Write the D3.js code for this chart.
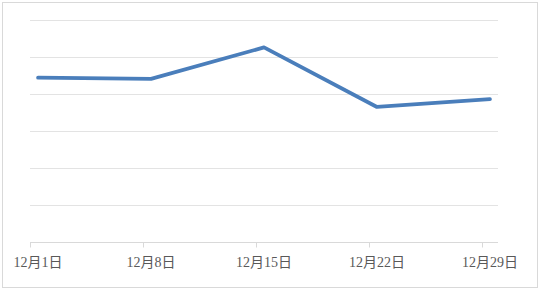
<!DOCTYPE html>
<html>
<head>
<meta charset="utf-8">
<script src="https://cdn.jsdelivr.net/npm/d3@7"></script>
<style>
  html, body { margin: 0; padding: 0; background: #fff; }
  .xaxis text { font-family: "Liberation Serif", "Noto Sans CJK SC", serif; font-size: 14px; fill: #595959; }
</style>
</head>
<body>
<div id="chart"></div>
<script>
var days = d3.range(1, 30);          // Dec 1 .. Dec 29, one band per day
var tickDays = [1, 8, 15, 22, 29];
var tickLabels = ["12月1日", "12月8日", "12月15日", "12月22日", "12月29日"];
var pointDays = [1, 8, 15, 22, 29];
var values = [4.44, 4.41, 5.26, 3.65, 3.86];
var gridValues = [0, 1, 2, 3, 4, 5, 6];

var width = 540, height = 290;
var margin = {top: 20, right: 42, bottom: 48, left: 30};
var plotW = width - margin.left - margin.right,
    plotH = height - margin.top - margin.bottom;

var svg = d3.select("#chart").append("svg")
    .attr("width", width)
    .attr("height", height);

svg.append("rect")
    .attr("x", 2.5).attr("y", 2.5)
    .attr("width", width - 5).attr("height", height - 5)
    .attr("fill", "#fff")
    .attr("stroke", "#d9d9d9");

var g = svg.append("g")
    .attr("transform", "translate(" + margin.left + "," + margin.top + ")");

var x = d3.scaleBand().domain(days).range([0, plotW]).paddingInner(0).paddingOuter(0);
var y = d3.scaleLinear().domain([0, 6]).range([plotH, 0]);

// gridlines
g.append("g").selectAll("line")
  .data(gridValues.filter(function(d) { return d > 0; }))
  .enter().append("line")
    .attr("x1", 0).attr("x2", plotW)
    .attr("y1", function(d) { return Math.round(y(d)) + 0.5; })
    .attr("y2", function(d) { return Math.round(y(d)) + 0.5; })
    .attr("stroke", "#e3e3e3");

// x axis: ticks at band start, labels at band centre
var xg = g.append("g").attr("class", "xaxis")
    .attr("transform", "translate(0," + (plotH + 0.5) + ")");
xg.append("line")
    .attr("x1", 0).attr("x2", plotW)
    .attr("stroke", "#d9d9d9");
xg.selectAll(".tick").data(tickDays).enter().append("line")
    .attr("class", "tick")
    .attr("x1", function(d) { return Math.round(x(d)) + 0.5; })
    .attr("x2", function(d) { return Math.round(x(d)) + 0.5; })
    .attr("y1", 0).attr("y2", 5)
    .attr("stroke", "#d9d9d9");
xg.selectAll("text").data(tickDays).enter().append("text")
    .attr("x", function(d) { return x(d) + x.bandwidth() / 2; })
    .attr("y", 24)
    .attr("text-anchor", "middle")
    .text(function(d, i) { return tickLabels[i]; });

var line = d3.line()
    .x(function(d, i) { return x(pointDays[i]) + x.bandwidth() / 2; })
    .y(function(d) { return y(d); });

g.append("path")
    .datum(values)
    .attr("d", line)
    .attr("fill", "none")
    .attr("stroke", "#4a7ebb")
    .attr("stroke-width", 3.8)
    .attr("stroke-linejoin", "round")
    .attr("stroke-linecap", "round");
</script>
</body>
</html>
